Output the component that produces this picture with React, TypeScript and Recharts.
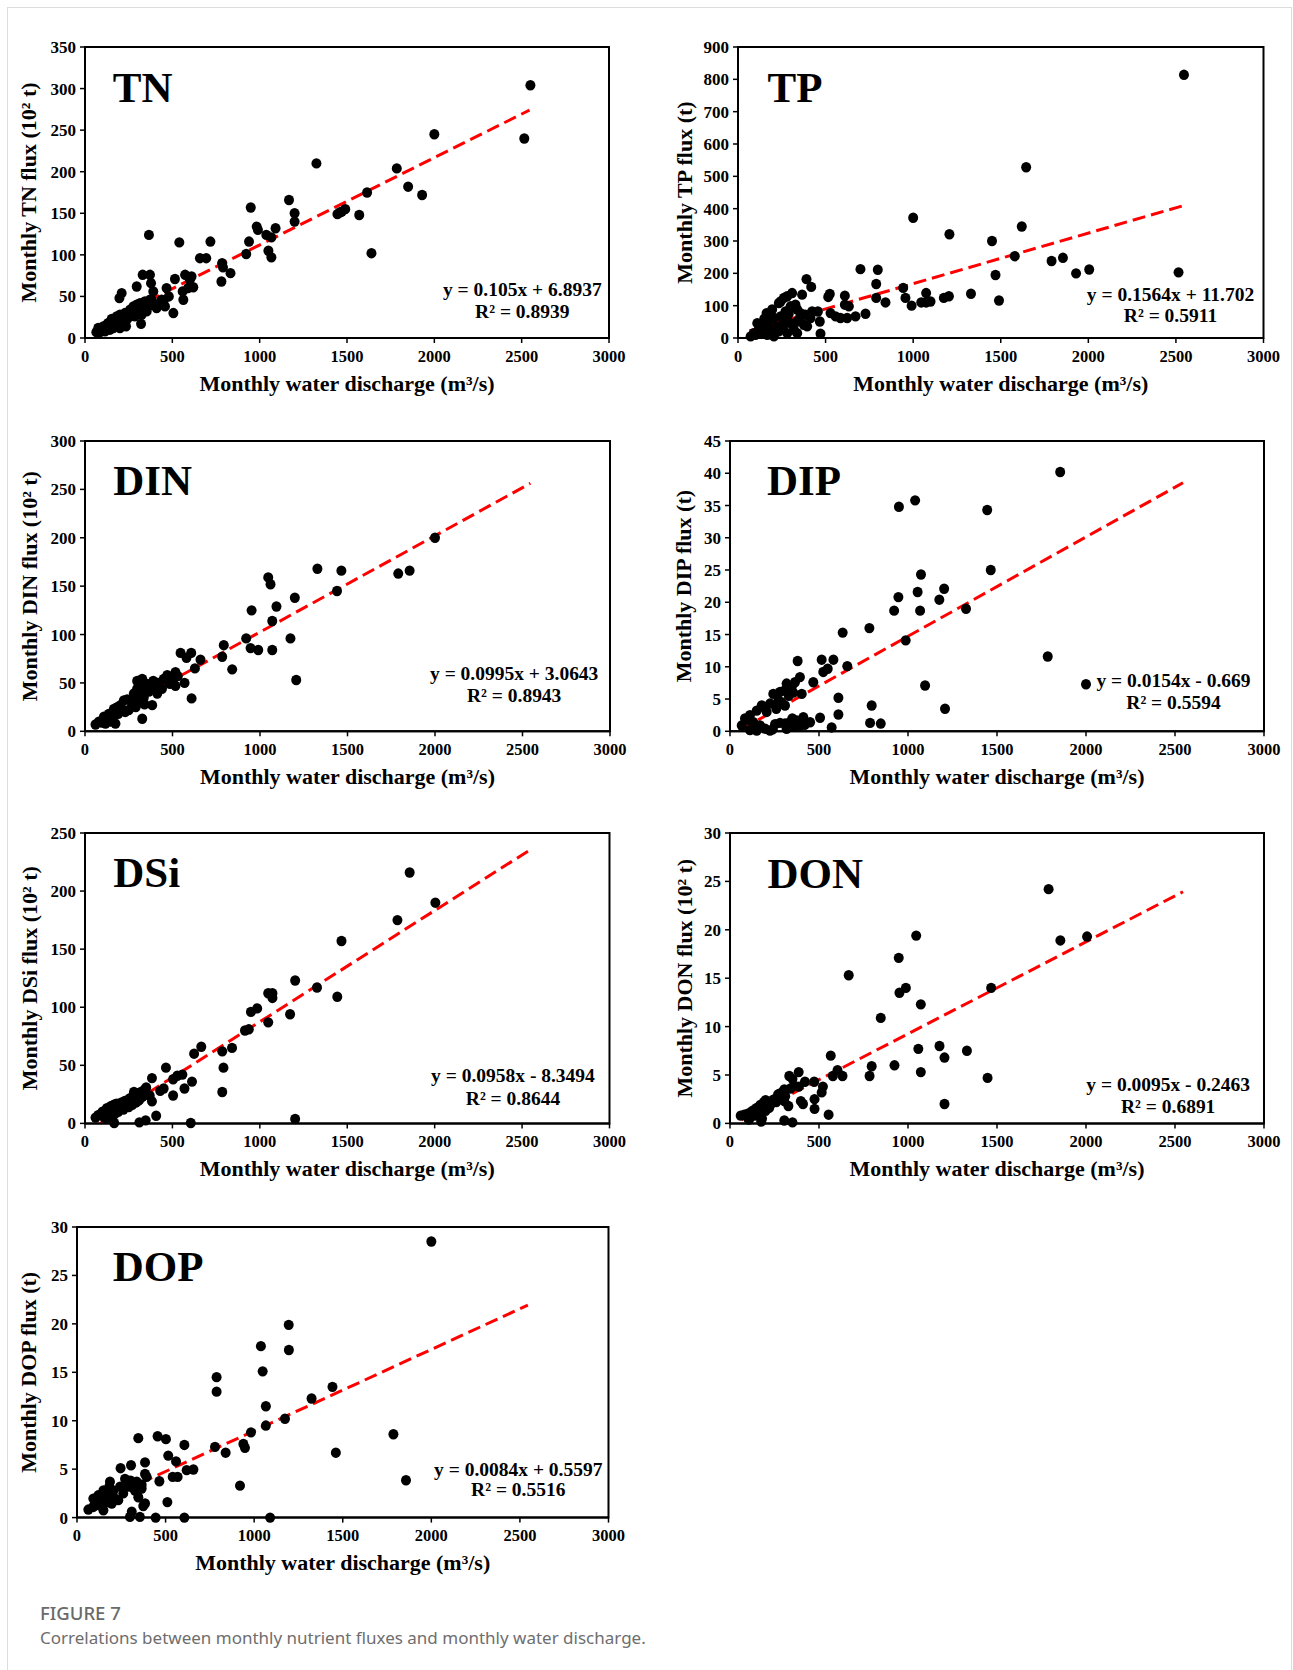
import React from 'react'
import { ScatterChart, Scatter, XAxis, YAxis, ReferenceLine, ReferenceArea } from 'recharts'

// monthly water discharge (m3/s) vs nutrient flux
const X_TICKS = [0, 500, 1000, 1500, 2000, 2500, 3000]
const TREND_RANGE = [65, 2545]

const TN_Y_TICKS = [0, 50, 100, 150, 200, 250, 300, 350]
const TP_Y_TICKS = [0, 100, 200, 300, 400, 500, 600, 700, 800, 900]
const DIN_Y_TICKS = [0, 50, 100, 150, 200, 250, 300]
const DIP_Y_TICKS = [0, 5, 10, 15, 20, 25, 30, 35, 40, 45]
const DSI_Y_TICKS = [0, 50, 100, 150, 200, 250]
const DON_Y_TICKS = [0, 5, 10, 15, 20, 25, 30]
const DOP_Y_TICKS = [0, 5, 10, 15, 20, 25, 30]

const TN_POINTS: [number, number][] = [
  [2550, 304], [2515, 240], [2000, 245], [1785, 204], [1850, 182], [1930, 172], [1615, 175], [1570, 148],
  [1445, 149], [1458, 151], [1470, 152], [1490, 155], [1640, 102], [1325, 210], [1168, 166], [1200, 150],
  [1200, 140], [1091, 132], [1038, 124], [1067, 121], [1050, 105], [1067, 97], [983, 134], [990, 130],
  [949, 157], [939, 116], [923, 101], [833, 78], [785, 90], [790, 85], [781, 68], [718, 116], [658, 96],
  [694, 96], [540, 115], [366, 124], [573, 76], [610, 74], [515, 71], [620, 61], [559, 56], [563, 46],
  [467, 60], [330, 76], [372, 76], [378, 66], [391, 56], [296, 62], [210, 54], [197, 48], [506, 30],
  [321, 17], [429, 42], [458, 38], [382, 46], [235, 14], [65, 7], [76, 12], [105, 14], [134, 18], [162, 20],
  [181, 26], [200, 28], [229, 30], [258, 34], [277, 38], [296, 40], [315, 42], [343, 44], [353, 32],
  [324, 28], [286, 26], [239, 22], [210, 18], [172, 14], [143, 10], [115, 8], [86, 7], [410, 36], [439, 46],
  [363, 38], [372, 46], [162, 12], [124, 16], [258, 26], [305, 32], [200, 12], [153, 23], [334, 36],
  [95, 10], [120, 11], [145, 14], [185, 17], [225, 19], [265, 30], [290, 35], [330, 40], [400, 40],
  [450, 45], [480, 50], [590, 60], [600, 70],
]

const TP_POINTS: [number, number][] = [
  [2546, 814], [1645, 528], [1620, 345], [1450, 300], [1580, 253], [1470, 195], [1490, 116], [1790, 238],
  [1855, 248], [1930, 200], [2005, 212], [2515, 203], [1330, 137], [1207, 321], [1000, 372], [699, 213],
  [798, 211], [789, 167], [789, 124], [842, 110], [728, 75], [943, 155], [956, 124], [991, 100], [1046, 110],
  [1074, 139], [1099, 113], [1074, 110], [1175, 124], [1204, 129], [391, 182], [418, 158], [366, 134],
  [309, 139], [262, 124], [233, 108], [524, 136], [515, 127], [610, 131], [610, 103], [633, 98], [467, 51],
  [471, 13], [163, 77], [110, 46], [528, 77], [557, 67], [585, 62], [623, 62], [671, 67], [456, 82],
  [338, 88], [357, 77], [385, 72], [423, 82], [72, 5], [100, 10], [128, 21], [148, 36], [176, 51], [205, 62],
  [243, 67], [271, 82], [300, 98], [328, 103], [186, 26], [224, 36], [262, 41], [300, 46], [338, 51],
  [376, 41], [319, 26], [281, 15], [233, 21], [167, 10], [205, 5], [338, 15], [395, 36], [414, 62],
  [195, 88], [243, 113], [281, 129], [150, 60], [180, 70], [120, 30], [260, 55], [350, 60], [290, 75],
  [140, 15], [90, 15],
]

const DIN_POINTS: [number, number][] = [
  [2000, 200], [1790, 163], [1855, 166], [1465, 166], [1328, 168], [1440, 145], [1047, 159], [1060, 152],
  [1199, 138], [1094, 129], [952, 125], [1070, 114], [921, 96], [1174, 96], [946, 86], [990, 84], [1070, 84],
  [793, 89], [784, 77], [841, 64], [1207, 53], [546, 81], [607, 81], [580, 76], [660, 74], [628, 65],
  [569, 50], [609, 34], [517, 61], [470, 58], [517, 47], [485, 49], [450, 54], [390, 52], [355, 49],
  [317, 47], [298, 44], [384, 44], [384, 27], [327, 13], [336, 35], [308, 40], [289, 34], [260, 32],
  [241, 33], [222, 32], [184, 25], [165, 23], [136, 18], [108, 15], [79, 10], [60, 7], [174, 8], [146, 10],
  [117, 8], [203, 27], [279, 39], [327, 54], [298, 52], [413, 39], [365, 41], [350, 45], [330, 40],
  [310, 30], [290, 25], [270, 28], [250, 22], [230, 20], [210, 22], [190, 18], [160, 15], [125, 12],
  [95, 9], [400, 46], [420, 50], [440, 44], [500, 52], [530, 57], [340, 28],
]

const DIP_POINTS: [number, number][] = [
  [1855, 40.2], [949, 34.8], [1040, 35.8], [1445, 34.3], [1465, 25], [1785, 11.6], [2000, 7.3],
  [1073, 24.3], [1054, 21.6], [1203, 22.1], [1176, 20.4], [946, 20.8], [922, 18.7], [1068, 18.7],
  [1326, 19], [987, 14.1], [783, 16], [633, 15.3], [515, 11.1], [581, 11.1], [380, 10.9], [524, 9.2],
  [549, 9.7], [659, 10.1], [393, 8.4], [365, 7.6], [468, 7.6], [318, 7.4], [347, 6.9], [305, 6.3],
  [281, 6.1], [403, 5.8], [609, 5.2], [1096, 7.1], [1208, 3.5], [796, 4.0], [609, 2.6], [506, 2.1],
  [787, 1.3], [847, 1.2], [571, 0.6], [450, 1.4], [412, 2.2], [375, 1.7], [337, 1.4], [309, 1.2],
  [281, 1.3], [253, 1.1], [393, 0.9], [356, 0.7], [318, 0.4], [178, 4.0], [150, 3.2], [225, 4.3],
  [243, 5.8], [272, 4.8], [309, 4.0], [112, 2.5], [84, 2.0], [66, 0.9], [131, 1.4], [169, 0.9], [197, 0.4],
  [225, 0.1], [150, 0.1], [112, 0.2], [187, 3.8], [206, 3.0], [330, 5.5], [355, 6.0], [290, 4.5],
  [260, 3.5], [100, 1.8], [240, 0.3], [350, 2.0], [420, 1.0],
]

const DSI_POINTS: [number, number][] = [
  [1857, 216], [2004, 190], [1787, 175], [1467, 157], [1443, 109], [1327, 117], [1202, 123], [1173, 94],
  [1048, 112], [1072, 112], [1072, 108], [1048, 87], [985, 99], [949, 96], [937, 81], [915, 80], [841, 65],
  [785, 62], [792, 48], [785, 27], [665, 66], [624, 60], [612, 36], [605, 0.3], [569, 30], [557, 42],
  [528, 41], [504, 38], [463, 48], [504, 24], [1202, 3.8], [383, 39], [407, 6.6], [347, 2.6], [311, 0.9],
  [167, 0.3], [383, 19], [60, 5], [75, 7], [90, 8], [100, 10], [115, 11], [125, 13], [140, 13], [150, 15],
  [165, 16], [180, 17], [195, 17], [210, 18], [225, 19], [240, 20], [260, 22], [280, 24], [300, 26],
  [320, 27], [340, 29], [350, 31], [290, 18], [310, 20], [330, 23], [270, 16], [250, 14], [220, 12],
  [190, 10], [170, 8], [150, 6], [130, 4], [110, 5], [200, 14], [240, 17], [280, 27], [300, 19], [430, 28],
  [450, 30], [370, 24],
]

const DON_POINTS: [number, number][] = [
  [1790, 24.2], [1046, 19.4], [948, 17.1], [1856, 18.9], [2006, 19.3], [667, 15.3], [988, 14.0], [952, 13.5],
  [1467, 14.0], [1072, 12.3], [847, 10.9], [1058, 7.7], [1177, 8.0], [1205, 6.8], [1331, 7.5], [924, 6.0],
  [796, 5.9], [784, 4.9], [1072, 5.3], [1447, 4.7], [1205, 2.0], [566, 7.0], [604, 5.5], [578, 4.9],
  [632, 4.9], [473, 4.3], [522, 3.8], [515, 3.2], [475, 2.5], [554, 0.9], [475, 1.5], [386, 5.3], [351, 4.6],
  [386, 3.8], [421, 4.3], [398, 2.3], [410, 2.0], [333, 4.9], [305, 3.5], [305, 2.3], [328, 1.8], [305, 0.3],
  [351, 0.1], [281, 3.1], [60, 0.8], [80, 0.9], [100, 1.0], [110, 0.5], [120, 1.2], [135, 1.4], [150, 1.6],
  [160, 1.2], [170, 1.9], [180, 0.5], [175, 0.2], [190, 2.2], [200, 2.4], [210, 1.8], [220, 1.6], [230, 2.0],
  [250, 2.5], [260, 2.2], [270, 3.0], [280, 2.6], [290, 2.9], [300, 3.3], [310, 2.8], [140, 0.8], [200, 1.3],
  [240, 2.4], [105, 0.4], [340, 3.6], [360, 3.9],
]

const DOP_POINTS: [number, number][] = [
  [2000, 28.5], [1786, 8.6], [1461, 6.7], [1857, 3.85], [1090, 0], [1442, 13.5], [1195, 19.9], [1038, 17.7],
  [1196, 17.3], [1048, 15.1], [788, 14.5], [788, 13.0], [1066, 11.5], [1174, 10.2], [1066, 9.5], [1324, 12.3],
  [982, 8.8], [779, 7.3], [839, 6.7], [939, 7.6], [948, 7.2], [920, 3.3], [346, 8.2], [455, 8.4], [502, 8.1],
  [606, 7.5], [515, 6.4], [559, 5.8], [384, 5.7], [305, 5.4], [246, 5.1], [540, 4.2], [568, 4.2], [619, 4.9],
  [657, 4.96], [465, 3.75], [384, 4.5], [393, 4.2], [510, 1.6], [309, 0.6], [355, 0.07], [299, 0.07],
  [444, 0], [606, 0], [374, 1.2], [384, 1.45], [337, 3.7], [365, 3.4], [271, 4.0], [303, 3.8], [186, 3.7],
  [182, 3.2], [149, 2.8], [120, 2.3], [92, 1.96], [64, 0.83], [92, 1.1], [130, 1.45], [167, 1.6], [205, 2.1],
  [233, 1.8], [261, 2.5], [290, 3.2], [327, 2.8], [346, 2.1], [365, 3.0], [243, 3.2], [205, 2.8], [177, 2.5],
  [139, 2.1], [111, 1.3], [149, 0.76], [196, 1.45], [308, 3.2],
]

const SERIF = '"Liberation Serif", "Times New Roman", serif'
const SANS = '"Noto Sans", "Open Sans", sans-serif'

type PanelCfg = {
  name: string
  points: [number, number][]
  yTicks: number[]
  slope: number
  intercept: number
  eq: string
  r2: string
  yTitle: string
  plot: [number, number, number, number] // left, top, right, bottom in page px
  yTitleX: number
  namePos: [number, number]
  eqPos: [number, number, number]
}

const PANELS: PanelCfg[] = [
  {
    name: 'TN', points: TN_POINTS, yTicks: TN_Y_TICKS, slope: 0.105, intercept: 6.8937,
    eq: 'y = 0.105x + 6.8937', r2: 'R² = 0.8939', yTitle: 'Monthly TN flux (10² t)',
    plot: [85, 47.3, 609, 338.3], yTitleX: 36, namePos: [112.8, 102.7], eqPos: [522.3, 296, 318.3],
  },
  {
    name: 'TP', points: TP_POINTS, yTicks: TP_Y_TICKS, slope: 0.1564, intercept: 11.702,
    eq: 'y = 0.1564x + 11.702', r2: 'R² = 0.5911', yTitle: 'Monthly TP flux (t)',
    plot: [737.5, 47.3, 1263, 338.3], yTitleX: 691, namePos: [767, 102.7], eqPos: [1170, 301.7, 322.7],
  },
  {
    name: 'DIN', points: DIN_POINTS, yTicks: DIN_Y_TICKS, slope: 0.0995, intercept: 3.0643,
    eq: 'y = 0.0995x + 3.0643', r2: 'R² = 0.8943', yTitle: 'Monthly DIN flux (10² t)',
    plot: [84.5, 440.7, 609.5, 731], yTitleX: 36, namePos: [112.8, 495], eqPos: [513.7, 680, 701.7],
  },
  {
    name: 'DIP', points: DIP_POINTS, yTicks: DIP_Y_TICKS, slope: 0.0154, intercept: -0.669,
    eq: 'y = 0.0154x - 0.669', r2: 'R² = 0.5594', yTitle: 'Monthly DIP flux (t)',
    plot: [730, 440.7, 1264, 731], yTitleX: 691, namePos: [767, 495], eqPos: [1173.5, 686.7, 708.3],
  },
  {
    name: 'DSi', points: DSI_POINTS, yTicks: DSI_Y_TICKS, slope: 0.0958, intercept: -8.3494,
    eq: 'y = 0.0958x - 8.3494', r2: 'R² = 0.8644', yTitle: 'Monthly DSi flux (10² t)',
    plot: [84.5, 833.3, 609, 1123.7], yTitleX: 36, namePos: [112.8, 887.3], eqPos: [512.5, 1082.7, 1105],
  },
  {
    name: 'DON', points: DON_POINTS, yTicks: DON_Y_TICKS, slope: 0.0095, intercept: -0.2463,
    eq: 'y = 0.0095x - 0.2463', r2: 'R² = 0.6891', yTitle: 'Monthly DON flux (10² t)',
    plot: [729.5, 833.3, 1263.5, 1123.7], yTitleX: 691, namePos: [767, 888.3], eqPos: [1167.7, 1091.7, 1113.3],
  },
  {
    name: 'DOP', points: DOP_POINTS, yTicks: DOP_Y_TICKS, slope: 0.0084, intercept: 0.5597,
    eq: 'y = 0.0084x + 0.5597', r2: 'R² = 0.5516', yTitle: 'Monthly DOP flux (t)',
    plot: [77, 1226.7, 608.5, 1517.3], yTitleX: 36, namePos: [112.8, 1280.7], eqPos: [518.3, 1476, 1496],
  },
]

const PAD_LEFT = 85
const PAD_TOP = 60
const PAD_RIGHT = 20
const PAD_BOTTOM = 70
const Y_AXIS_W = 60
const X_AXIS_H = 30

const xTickStyle = { fill: '#000', fontSize: 16.5, fontWeight: 'bold', fontFamily: SERIF }
const yTickStyle = { fill: '#000', fontSize: 17, fontWeight: 'bold', fontFamily: SERIF }

const renderDot = (props: any) => <ellipse cx={props.cx} cy={props.cy} rx={5} ry={5.2} fill="#000" />

function Panel({ p }: { p: PanelCfg }) {
  const [l, t, r, b] = p.plot
  const cl = l - PAD_LEFT
  const ct = t - PAD_TOP
  const w = r - l + PAD_LEFT + PAD_RIGHT
  const h = b - t + PAD_TOP + PAD_BOTTOM
  const data = p.points.map(([x, y]) => ({ x, y }))
  const yMax = p.yTicks[p.yTicks.length - 1]
  const x0 = Math.max(TREND_RANGE[0], -p.intercept / p.slope)
  const x1 = TREND_RANGE[1]
  const ymid = (t + b) / 2 - ct

  return (
    <div style={{ position: 'absolute', left: cl, top: ct }}>
      <ScatterChart
        width={w}
        height={h}
        margin={{ top: PAD_TOP, right: PAD_RIGHT, bottom: PAD_BOTTOM - X_AXIS_H, left: PAD_LEFT - Y_AXIS_W }}
      >
        <XAxis
          type="number"
          dataKey="x"
          domain={[0, 3000]}
          ticks={X_TICKS}
          interval={0}
          height={X_AXIS_H}
          tickSize={5}
          tickMargin={7}
          axisLine={{ stroke: '#000', strokeWidth: 2 }}
          tickLine={{ stroke: '#000', strokeWidth: 1.5 }}
          tick={xTickStyle}
        />
        <YAxis
          type="number"
          dataKey="y"
          domain={[0, yMax]}
          ticks={p.yTicks}
          interval={0}
          width={Y_AXIS_W}
          tickSize={5}
          tickMargin={4}
          axisLine={{ stroke: '#000', strokeWidth: 2 }}
          tickLine={{ stroke: '#000', strokeWidth: 1.5 }}
          tick={yTickStyle}
        />
        <ReferenceArea x1={0} x2={3000} y1={0} y2={yMax} fill="none" stroke="#000" strokeWidth={2} ifOverflow="visible" />
        <Scatter data={data} fill="#000" shape={renderDot} isAnimationActive={false} />
        <ReferenceLine
          segment={[
            { x: x0, y: p.slope * x0 + p.intercept },
            { x: x1, y: p.slope * x1 + p.intercept },
          ]}
          stroke="#ff0000"
          strokeWidth={3}
          strokeDasharray="13 6"
          ifOverflow="visible"
        />
        <text x={p.namePos[0] - cl} y={p.namePos[1] - ct} fontFamily={SERIF} fontWeight="bold" fontSize={43} fill="#000">
          {p.name}
        </text>
        <text x={p.eqPos[0] - cl} y={p.eqPos[1] - ct} textAnchor="middle" fontFamily={SERIF} fontWeight="bold" fontSize={19.5} fill="#000">
          {p.eq}
        </text>
        <text x={p.eqPos[0] - cl} y={p.eqPos[2] - ct} textAnchor="middle" fontFamily={SERIF} fontWeight="bold" fontSize={19.5} fill="#000">
          {p.r2}
        </text>
        <text x={(l + r) / 2 - cl} y={b + 52.5 - ct} textAnchor="middle" fontFamily={SERIF} fontWeight="bold" fontSize={22} fill="#000">
          Monthly water discharge (m³/s)
        </text>
        <text
          transform={`translate(${p.yTitleX - cl}, ${ymid}) rotate(-90)`}
          textAnchor="middle"
          fontFamily={SERIF}
          fontWeight="bold"
          fontSize={22}
          fill="#000"
        >
          {p.yTitle}
        </text>
      </ScatterChart>
    </div>
  )
}

export default function App() {
  return (
    <div style={{ position: 'absolute', left: 0, top: 0, width: 1293, height: 1670, overflow: 'hidden', background: '#fff' }}>
      <div style={{ position: 'absolute', left: 7, top: 7, width: 1283, height: 1720, border: '1px solid #dcdcdc' }} />
      {PANELS.map((p) => (
        <Panel key={p.name} p={p} />
      ))}
      <svg width={1293} height={1670} style={{ position: 'absolute', left: 0, top: 0, pointerEvents: 'none' }}>
        <text x={40} y={1620} fontFamily={SANS} fontSize={18.5} fontWeight={500} fill="#6a6a6a">
          FIGURE 7
        </text>
        <text x={40} y={1644} fontFamily={SANS} fontSize={17} fill="#6e6e6e">
          Correlations between monthly nutrient fluxes and monthly water discharge.
        </text>
      </svg>
    </div>
  )
}
